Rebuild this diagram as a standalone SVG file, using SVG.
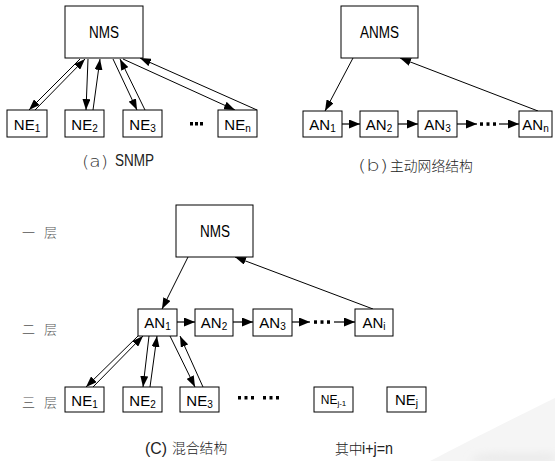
<svg xmlns="http://www.w3.org/2000/svg" width="555" height="461" viewBox="0 0 555 461">
<style>
.box{fill:#fff;stroke:#000;stroke-width:1}
.t{font-family:"Liberation Sans",Arial,sans-serif;font-size:16px;fill:#000}
.n{font-family:"Liberation Sans",Arial,sans-serif;font-size:15px;fill:#000;text-anchor:middle}
.s{font-size:10px}
.c{stroke:#000;stroke-width:1;fill:none;marker-end:url(#ah)}
.h{stroke:#000;stroke-width:1.2;fill:none;marker-end:url(#ahb)}
.cap{font-family:"Liberation Sans",sans-serif;font-size:16px;fill:#222}
.thin{font-family:"DejaVu Sans","Liberation Sans",sans-serif;font-weight:200;font-size:16px;fill:#333}
.cjk{font-family:"Noto Sans CJK SC",sans-serif;font-size:13.8px;fill:#222;font-weight:300}
.lay{font-family:"Noto Sans CJK SC",sans-serif;font-size:13px;fill:#555;font-weight:300}
.dot{fill:#000}
</style>
<defs>
<marker id="ah" markerUnits="userSpaceOnUse" markerWidth="11" markerHeight="8" refX="11" refY="4" orient="auto">
<path d="M0,0 L11,4 L0,8 z" fill="#000"/>
</marker>
<marker id="ahb" markerUnits="userSpaceOnUse" markerWidth="11" markerHeight="9" refX="11" refY="4.5" orient="auto">
<path d="M0,0 L11,4.5 L0,9 z" fill="#000"/>
</marker>
<linearGradient id="wm" x1="0" y1="0" x2="0" y2="1">
<stop offset="0" stop-color="#f4f4f4" stop-opacity="0"/>
<stop offset="1" stop-color="#d8d8d8" stop-opacity="0.8"/>
</linearGradient>
<filter id="bl"><feGaussianBlur stdDeviation="4"/></filter>
</defs>

<g id="watermark">
<path d="M430,461 C470,440 520,415 555,398 L555,461 Z" fill="#f5f5f5"/>
<path d="M470,461 C490,448 520,446 555,452 L555,461 Z" fill="url(#wm)" filter="url(#bl)"/>
</g>

<g id="connectors">
<!-- (a) -->
<line class="c" x1="80" y1="59" x2="29" y2="110"/>
<line class="c" x1="35" y1="110" x2="85" y2="59"/>
<line class="c" x1="88" y1="59" x2="86" y2="110"/>
<line class="c" x1="93" y1="110" x2="100" y2="59"/>
<line class="c" x1="113" y1="59" x2="137" y2="110"/>
<line class="c" x1="145" y1="110" x2="120" y2="59"/>
<line class="c" x1="123" y1="59" x2="235" y2="110"/>
<line class="c" x1="257" y1="110" x2="140" y2="58"/>
<!-- (b) -->
<line class="c" x1="353" y1="58" x2="325" y2="111"/>
<line class="c" x1="538" y1="111" x2="400" y2="58"/>
<line class="h" x1="342" y1="124" x2="360" y2="124"/>
<line class="h" x1="398" y1="124" x2="418" y2="124"/>
<line class="h" x1="457" y1="124" x2="477" y2="124"/>
<line class="h" x1="499" y1="124" x2="519" y2="124"/>
<!-- (c) -->
<line class="c" x1="188" y1="257" x2="162" y2="309"/>
<line class="c" x1="373" y1="309" x2="235" y2="257"/>
<line class="c" x1="138" y1="336" x2="86" y2="387"/>
<line class="c" x1="93" y1="387" x2="143" y2="336"/>
<line class="c" x1="149" y1="336" x2="143" y2="387"/>
<line class="c" x1="150" y1="387" x2="157" y2="336"/>
<line class="c" x1="170" y1="336" x2="195" y2="387"/>
<line class="c" x1="203" y1="387" x2="180" y2="336"/>
<line class="h" x1="177" y1="322" x2="195" y2="322"/>
<line class="h" x1="233" y1="322" x2="253" y2="322"/>
<line class="h" x1="292" y1="322" x2="310" y2="322"/>
<line class="h" x1="334" y1="322" x2="355" y2="322"/>
</g>

<g id="dots">
<rect class="dot" x="190" y="122" width="3" height="3.5"/>
<rect class="dot" x="195" y="122" width="3" height="3.5"/>
<rect class="dot" x="200" y="122" width="3" height="3.5"/>
<rect class="dot" x="480" y="122.3" width="3" height="3.5"/>
<rect class="dot" x="486.5" y="122.3" width="3" height="3.5"/>
<rect class="dot" x="493" y="122.3" width="3" height="3.5"/>
<rect class="dot" x="314" y="320.3" width="3" height="3.5"/>
<rect class="dot" x="320.5" y="320.3" width="3" height="3.5"/>
<rect class="dot" x="327" y="320.3" width="3" height="3.5"/>
<rect class="dot" x="238" y="396" width="3" height="3.5"/>
<rect class="dot" x="244.5" y="396" width="3" height="3.5"/>
<rect class="dot" x="251" y="396" width="3" height="3.5"/>
<rect class="dot" x="263" y="396" width="3" height="3.5"/>
<rect class="dot" x="269.5" y="396" width="3" height="3.5"/>
<rect class="dot" x="276" y="396" width="3" height="3.5"/>
</g>

<!-- (a) nodes -->
<g id="a-nms"><rect class="box" x="65" y="6" width="78" height="52"/><text class="t" x="89" y="38" textLength="30" lengthAdjust="spacingAndGlyphs">NMS</text></g>
<g id="a-ne1"><rect class="box" x="7" y="110" width="40" height="27"/><text class="n" x="27" y="129.5">NE<tspan class="s" dy="2">1</tspan></text></g>
<g id="a-ne2"><rect class="box" x="65" y="110" width="39" height="27"/><text class="n" x="84.5" y="129.5">NE<tspan class="s" dy="2">2</tspan></text></g>
<g id="a-ne3"><rect class="box" x="123" y="110" width="39" height="27"/><text class="n" x="142.5" y="129.5">NE<tspan class="s" dy="2">3</tspan></text></g>
<g id="a-nen"><rect class="box" x="218" y="110" width="39" height="27"/><text class="n" x="237.5" y="129.5">NE<tspan class="s" dy="2">n</tspan></text></g>
<g id="a-caption"><text class="thin" x="82" y="167" textLength="26" lengthAdjust="spacingAndGlyphs">(a)</text><text class="cap" x="115" y="166" textLength="39" lengthAdjust="spacingAndGlyphs">SNMP</text></g>

<!-- (b) nodes -->
<g id="b-anms"><rect class="box" x="341" y="6" width="77" height="52"/><text class="t" x="360" y="38" textLength="39" lengthAdjust="spacingAndGlyphs">ANMS</text></g>
<g id="b-an1"><rect class="box" x="303" y="111" width="39" height="26"/><text class="n" x="322.5" y="129.5">AN<tspan class="s" dy="2">1</tspan></text></g>
<g id="b-an2"><rect class="box" x="360" y="111" width="38" height="26"/><text class="n" x="379" y="129.5">AN<tspan class="s" dy="2">2</tspan></text></g>
<g id="b-an3"><rect class="box" x="418" y="111" width="39" height="26"/><text class="n" x="437.5" y="129.5">AN<tspan class="s" dy="2">3</tspan></text></g>
<g id="b-ann"><rect class="box" x="519" y="111" width="33" height="26"/><text class="n" x="535.5" y="129.5">AN<tspan class="s" dy="2">n</tspan></text></g>
<g id="b-caption"><text class="thin" x="358" y="171" textLength="30" lengthAdjust="spacingAndGlyphs">(b)</text><text class="cjk" x="390" y="171">主动网络结构</text></g>

<!-- (c) layers -->
<g id="layers">
<text class="lay" x="22" y="237">一</text><text class="lay" x="44" y="237">层</text>
<text class="lay" x="22" y="334">二</text><text class="lay" x="44" y="334">层</text>
<text class="lay" x="22" y="407">三</text><text class="lay" x="44" y="407">层</text>
</g>

<!-- (c) nodes -->
<g id="c-nms"><rect class="box" x="176" y="205" width="77" height="52"/><text class="t" x="200" y="237" textLength="30" lengthAdjust="spacingAndGlyphs">NMS</text></g>
<g id="c-an1"><rect class="box" x="138" y="309" width="39" height="27"/><text class="n" x="157.5" y="328">AN<tspan class="s" dy="2">1</tspan></text></g>
<g id="c-an2"><rect class="box" x="195" y="309" width="38" height="27"/><text class="n" x="214" y="328">AN<tspan class="s" dy="2">2</tspan></text></g>
<g id="c-an3"><rect class="box" x="253" y="309" width="39" height="27"/><text class="n" x="272.5" y="328">AN<tspan class="s" dy="2">3</tspan></text></g>
<g id="c-ani"><rect class="box" x="355" y="309" width="38" height="27"/><text class="n" x="374" y="328">AN<tspan class="s" dy="2">i</tspan></text></g>
<g id="c-ne1"><rect class="box" x="65" y="387" width="39" height="25"/><text class="n" x="84.5" y="405.5">NE<tspan class="s" dy="2">1</tspan></text></g>
<g id="c-ne2"><rect class="box" x="123" y="387" width="39" height="25"/><text class="n" x="142.5" y="405.5">NE<tspan class="s" dy="2">2</tspan></text></g>
<g id="c-ne3"><rect class="box" x="180" y="387" width="39" height="25"/><text class="n" x="199.5" y="405.5">NE<tspan class="s" dy="2">3</tspan></text></g>
<g id="c-nej1"><rect class="box" x="314" y="387" width="39" height="25"/><text class="n" x="333.5" y="404" style="font-size:12px">NE<tspan dy="2" style="font-size:8px">j-1</tspan></text></g>
<g id="c-nej"><rect class="box" x="387" y="387" width="39" height="25"/><text class="n" x="406.5" y="405">NE<tspan class="s" dy="2">j</tspan></text></g>
<g id="c-caption"><text class="cap" x="145" y="454" textLength="22" lengthAdjust="spacingAndGlyphs">(C)</text><text class="cjk" x="172" y="453">混合结构</text></g>
<g id="c-note"><text class="cjk" x="335" y="454">其中</text><text class="cap" x="362" y="454" textLength="31" lengthAdjust="spacingAndGlyphs">i+j=n</text></g>
</svg>
